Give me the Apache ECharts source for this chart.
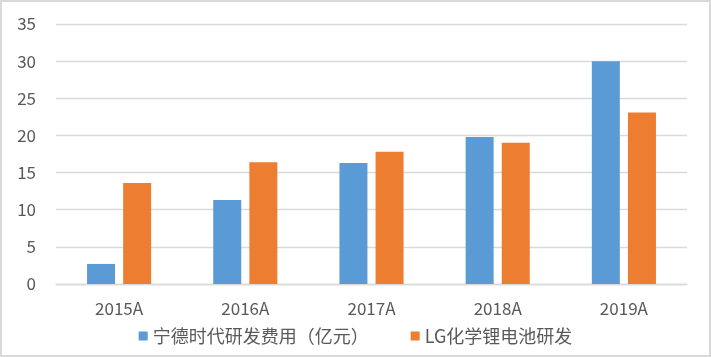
<!DOCTYPE html>
<html><head><meta charset="utf-8">
<script src="https://cdn.jsdelivr.net/npm/echarts@6/dist/echarts.min.js"></script>
<style>html,body{margin:0;padding:0;background:#fff}#c{width:711px;height:357px;box-sizing:border-box;border:2px solid #d9d9d9}</style>
</head><body><div id="c"></div>
<script>
const categories = ['2015A','2016A','2017A','2018A','2019A'];
const catlSeriesName = '宁德时代研发费用（亿元）';
const lgSeriesName = 'LG化学锂电池研发';
const catlValues = [2.7, 11.3, 16.3, 19.8, 30.0];
const lgValues = [13.6, 16.4, 17.8, 19.0, 23.1];
const yTicks = [0, 5, 10, 15, 20, 25, 30, 35];

const chart = echarts.init(document.getElementById('c'));
const font = '"Noto Sans CJK SC", "Noto Sans", sans-serif';
chart.setOption({
  animation: false,
  textStyle: {fontFamily: font},
  grid: {left: 54, right: 22, top: 22, bottom: 71, containLabel: false},
  legend: {
    bottom: 5, left: 'center',
    itemWidth: 9, itemHeight: 9, itemGap: 42,
    icon: 'rect',
    textStyle: {color: '#595959', fontSize: 18, fontFamily: font},
    data: [catlSeriesName, lgSeriesName]
  },
  xAxis: {
    type: 'category', data: categories,
    axisLine: {lineStyle: {color: '#d9d9d9', width: 1.3}},
    axisTick: {show: false},
    axisLabel: {color: '#595959', fontSize: 17, margin: 16}
  },
  yAxis: {
    type: 'value', min: yTicks[0], max: yTicks[yTicks.length-1], interval: 5,
    axisLine: {show: false}, axisTick: {show: false},
    splitLine: {lineStyle: {color: '#d9d9d9', width: 1.3}},
    axisLabel: {color: '#595959', fontSize: 17, margin: 20}
  },
  series: [
    {name: catlSeriesName, type: 'bar', data: catlValues, barWidth: 28, barGap: '29%', itemStyle: {color: '#5b9bd5'}},
    {name: lgSeriesName, type: 'bar', data: lgValues, barWidth: 28, itemStyle: {color: '#ed7d31'}}
  ]
});
</script></body></html>
